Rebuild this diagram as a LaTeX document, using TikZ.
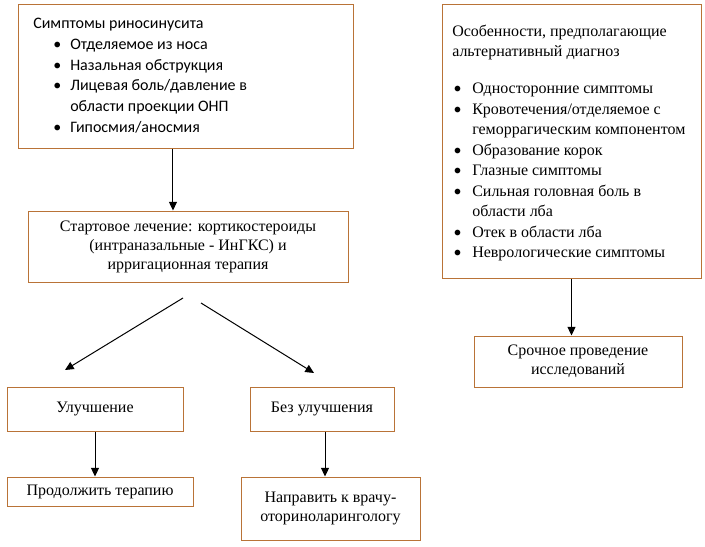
\documentclass[tikz,border=0pt]{standalone}
\usepackage{fontspec}
\setmainfont{Liberation Serif}
\newfontfamily\calibri{Carlito}
\usetikzlibrary{arrows.meta,positioning}
\definecolor{boxbrown}{RGB}{185,115,55}
\newcommand{\symbul}{\hspace*{15pt}\textbullet}
\newcommand{\altbul}{\hspace*{1pt}{\calibri\textbullet}}

\begin{document}
\begin{tikzpicture}[x=0.75pt, y=-0.75pt,
    box/.style={rectangle, draw=boxbrown, line width=0.75pt, inner sep=0pt, align=center, font=\fontsize{12}{14.25}\selectfont},
    list/.style={anchor=west, inner sep=0pt},
    arrow/.style={-{Triangle[length=6.5pt, width=6pt]}, line width=0.75pt}
]
\useasboundingbox (0,0) rectangle (705,546);

% Symptoms
\node[box, minimum width=251.25pt, minimum height=108pt] (sym) at (185.5, 76) {};
\node[list, font=\calibri\fontsize{12}{15.5}\selectfont] (symtext) at (33, 76.5) {%
\begin{tabular}{@{}p{27.75pt}@{}l@{}}
\multicolumn{2}{@{}l@{}}{Симптомы риносинусита}\\
\symbul & Отделяемое из носа\\
\symbul & Назальная обструкция\\
\symbul & Лицевая боль/давление в\\
 & области проекции ОНП\\
\symbul & Гипосмия/аносмия
\end{tabular}};

% Start of treatment
\node[box, minimum width=240pt, minimum height=53.25pt] (start) at (188, 246.5)
  {Стартовое лечение: кортикостероиды\\(интраназальные - ИнГКС) и\\ирригационная терапия};

% Outcomes
\node[box, minimum width=132pt, minimum height=33pt] (better) at (95, 409) {Улучшение};
\node[box, minimum width=108pt, minimum height=33pt] (nobetter) at (322, 409) {Без улучшения};
\node[box, minimum width=139.5pt, minimum height=21.75pt] (cont) at (100, 491.5) {Продолжить терапию};
\node[box, minimum width=134.25pt, minimum height=47.25pt] (ent) at (330.5, 508.5)
  {Направить к врачу-\\оториноларингологу};

% Alternative diagnosis
\node[box, minimum width=194.25pt, minimum height=205.5pt] (alt) at (571.5, 141) {};
\node[list, font=\fontsize{12}{15.4}\selectfont] (alttext) at (452, 143) {%
\begin{tabular}{@{}p{15pt}@{}l@{}}
\multicolumn{2}{@{}l@{}}{Особенности, предполагающие}\\
\multicolumn{2}{@{}l@{}}{альтернативный диагноз}\\[12pt]
\altbul & Односторонние симптомы\\
\altbul & Кровотечения/отделяемое с\\
 & геморрагическим компонентом\\
\altbul & Образование корок\\
\altbul & Глазные симптомы\\
\altbul & Сильная головная боль в\\
 & области лба\\
\altbul & Отек в области лба\\
\altbul & Неврологические симптомы
\end{tabular}};
\node[box, minimum width=156pt, minimum height=38.25pt] (urgent) at (578, 361.5)
  {Срочное проведение\\исследований};

% Arrows
\draw[arrow] ([xshift=-9.4pt]sym.south) -- ([xshift=-9.4pt]sym.south |- start.north);
\coordinate (lfrom) at (183, 298);
\coordinate (lto) at (65, 370);
\coordinate (rfrom) at (201, 303);
\coordinate (rto) at (314, 373);
\draw[arrow] (lfrom) -- (lto);
\draw[arrow] (rfrom) -- (rto);
\draw[arrow] (better.south) -- (better.south |- cont.north);
\draw[arrow] ([xshift=2.25pt]nobetter.south) -- ([xshift=2.25pt]nobetter.south |- ent.north);
\draw[arrow] (alt.south) -- (alt.south |- urgent.north);

\end{tikzpicture}
\end{document}
